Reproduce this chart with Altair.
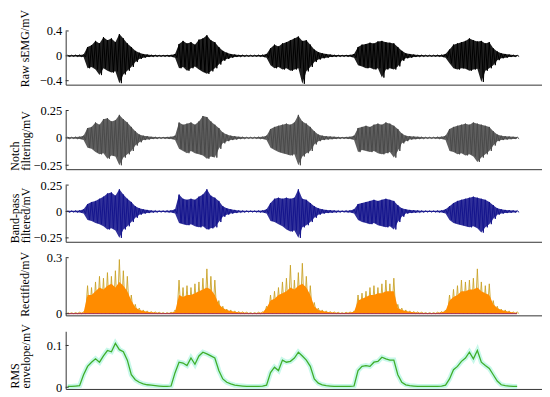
import altair as alt
import pandas as pd

N = 114
time_s = [round(i * 0.04, 2) for i in range(N)]

raw_upper = [0.012, 0.01, 0.012, 0.015,
             0.02, 0.14, 0.17, 0.24, 0.2, 0.3, 0.25, 0.28, 0.22, 0.35, 0.28, 0.2, 0.14, 0.08, 0.05, 0.03, 0.02,
             0.015, 0.012, 0.01, 0.01, 0.012, 0.015,
             0.03, 0.19, 0.24, 0.2, 0.22, 0.18, 0.26, 0.28, 0.33, 0.25, 0.22, 0.14, 0.08, 0.05, 0.03, 0.02,
             0.015, 0.012, 0.01, 0.01, 0.01, 0.012, 0.015,
             0.03, 0.12, 0.18, 0.15, 0.2, 0.22, 0.25, 0.28, 0.31, 0.24, 0.25, 0.18, 0.1, 0.06, 0.04, 0.03, 0.02,
             0.015, 0.012, 0.01, 0.012, 0.015,
             0.03, 0.14, 0.18, 0.19, 0.21, 0.2, 0.23, 0.24, 0.22, 0.21, 0.2, 0.14, 0.08, 0.04, 0.03, 0.02,
             0.015, 0.012, 0.01, 0.01, 0.01, 0.012, 0.015,
             0.03, 0.1, 0.18, 0.2, 0.22, 0.24, 0.28, 0.25, 0.23, 0.24, 0.2, 0.22, 0.12, 0.07, 0.04, 0.03, 0.02, 0.015, 0.01]
raw_lower = [-0.012, -0.01, -0.012, -0.015,
             -0.02, -0.2, -0.18, -0.22, -0.31, -0.2, -0.24, -0.27, -0.25, -0.44, -0.3, -0.24, -0.18, -0.1, -0.05, -0.03, -0.02,
             -0.015, -0.012, -0.01, -0.01, -0.012, -0.015,
             -0.03, -0.2, -0.18, -0.24, -0.2, -0.17, -0.22, -0.26, -0.29, -0.25, -0.2, -0.14, -0.08, -0.05, -0.03, -0.02,
             -0.015, -0.012, -0.01, -0.01, -0.01, -0.012, -0.015,
             -0.03, -0.15, -0.2, -0.18, -0.22, -0.2, -0.24, -0.22, -0.2, -0.45, -0.25, -0.18, -0.1, -0.06, -0.04, -0.03, -0.02,
             -0.015, -0.012, -0.01, -0.012, -0.015,
             -0.03, -0.15, -0.17, -0.2, -0.19, -0.22, -0.2, -0.35, -0.22, -0.2, -0.22, -0.17, -0.08, -0.04, -0.03, -0.02,
             -0.015, -0.012, -0.01, -0.01, -0.01, -0.012, -0.015,
             -0.03, -0.12, -0.2, -0.22, -0.2, -0.21, -0.24, -0.22, -0.21, -0.42, -0.24, -0.2, -0.15, -0.07, -0.04, -0.03, -0.02, -0.015, -0.01]

notch_upper = [0.008, 0.006, 0.008, 0.01,
               0.02, 0.09, 0.1, 0.14, 0.12, 0.17, 0.18, 0.15, 0.16, 0.21, 0.17, 0.14, 0.1, 0.06, 0.03, 0.02, 0.015,
               0.01, 0.008, 0.006, 0.006, 0.008, 0.01,
               0.02, 0.14, 0.12, 0.13, 0.14, 0.12, 0.15, 0.2, 0.19, 0.15, 0.12, 0.09, 0.05, 0.03, 0.02, 0.015,
               0.01, 0.008, 0.006, 0.006, 0.006, 0.008, 0.01,
               0.02, 0.08, 0.1, 0.11, 0.12, 0.13, 0.12, 0.14, 0.21, 0.15, 0.13, 0.1, 0.06, 0.03, 0.02, 0.015, 0.012,
               0.01, 0.008, 0.006, 0.008, 0.01,
               0.02, 0.09, 0.1, 0.11, 0.1, 0.12, 0.13, 0.12, 0.14, 0.13, 0.11, 0.08, 0.04, 0.02, 0.015, 0.012,
               0.01, 0.008, 0.006, 0.006, 0.006, 0.008, 0.01,
               0.02, 0.08, 0.1, 0.11, 0.12, 0.13, 0.12, 0.14, 0.13, 0.12, 0.11, 0.1, 0.06, 0.03, 0.02, 0.015, 0.012, 0.01, 0.008]
notch_lower = [-0.008, -0.006, -0.008, -0.01,
               -0.02, -0.09, -0.1, -0.13, -0.15, -0.14, -0.19, -0.16, -0.17, -0.25, -0.18, -0.15, -0.12, -0.07, -0.04, -0.02, -0.015,
               -0.01, -0.008, -0.006, -0.006, -0.008, -0.01,
               -0.02, -0.1, -0.12, -0.14, -0.12, -0.14, -0.15, -0.16, -0.19, -0.17, -0.18, -0.1, -0.05, -0.03, -0.02, -0.015,
               -0.01, -0.008, -0.006, -0.006, -0.006, -0.008, -0.01,
               -0.02, -0.09, -0.11, -0.13, -0.14, -0.15, -0.16, -0.15, -0.25, -0.17, -0.14, -0.12, -0.06, -0.03, -0.02, -0.015, -0.012,
               -0.01, -0.008, -0.006, -0.008, -0.01,
               -0.02, -0.13, -0.11, -0.12, -0.13, -0.12, -0.14, -0.15, -0.14, -0.13, -0.18, -0.12, -0.05, -0.03, -0.015, -0.012,
               -0.01, -0.008, -0.006, -0.006, -0.006, -0.008, -0.01,
               -0.02, -0.12, -0.13, -0.15, -0.14, -0.16, -0.15, -0.17, -0.22, -0.18, -0.15, -0.12, -0.07, -0.03, -0.02, -0.015, -0.012, -0.01, -0.008]

band_upper = [0.008, 0.006, 0.008, 0.01,
              0.02, 0.07, 0.09, 0.1, 0.12, 0.14, 0.17, 0.18, 0.15, 0.21, 0.16, 0.12, 0.09, 0.05, 0.03, 0.02, 0.015,
              0.01, 0.008, 0.006, 0.006, 0.008, 0.01,
              0.02, 0.16, 0.12, 0.11, 0.12, 0.11, 0.14, 0.16, 0.21, 0.15, 0.13, 0.1, 0.05, 0.03, 0.02, 0.015,
              0.01, 0.008, 0.006, 0.006, 0.006, 0.008, 0.01,
              0.02, 0.08, 0.12, 0.13, 0.12, 0.13, 0.12, 0.13, 0.21, 0.12, 0.11, 0.08, 0.05, 0.03, 0.02, 0.015, 0.012,
              0.01, 0.008, 0.006, 0.008, 0.01,
              0.02, 0.07, 0.08, 0.09, 0.1, 0.11, 0.1, 0.11, 0.12, 0.11, 0.1, 0.06, 0.03, 0.02, 0.015, 0.012,
              0.01, 0.008, 0.006, 0.006, 0.006, 0.008, 0.01,
              0.02, 0.05, 0.08, 0.1, 0.11, 0.12, 0.13, 0.14, 0.13, 0.12, 0.11, 0.09, 0.06, 0.03, 0.02, 0.015, 0.012, 0.01, 0.008]
band_lower = [-0.008, -0.006, -0.008, -0.01,
              -0.02, -0.08, -0.09, -0.11, -0.12, -0.14, -0.17, -0.16, -0.18, -0.25, -0.17, -0.14, -0.1, -0.06, -0.03, -0.02, -0.015,
              -0.01, -0.008, -0.006, -0.006, -0.008, -0.01,
              -0.02, -0.11, -0.12, -0.13, -0.12, -0.14, -0.15, -0.14, -0.17, -0.16, -0.15, -0.1, -0.05, -0.03, -0.02, -0.015,
              -0.01, -0.008, -0.006, -0.006, -0.006, -0.008, -0.01,
              -0.02, -0.09, -0.1, -0.12, -0.14, -0.17, -0.19, -0.18, -0.25, -0.15, -0.13, -0.1, -0.06, -0.03, -0.02, -0.015, -0.012,
              -0.01, -0.008, -0.006, -0.008, -0.01,
              -0.02, -0.08, -0.1, -0.11, -0.12, -0.11, -0.13, -0.14, -0.15, -0.14, -0.17, -0.1, -0.05, -0.02, -0.015, -0.012,
              -0.01, -0.008, -0.006, -0.006, -0.006, -0.008, -0.01,
              -0.02, -0.08, -0.11, -0.12, -0.13, -0.14, -0.15, -0.14, -0.16, -0.2, -0.15, -0.12, -0.07, -0.03, -0.02, -0.015, -0.012, -0.01, -0.008]

rect_peak = [0.006, 0.005, 0.006, 0.008,
             0.01, 0.15, 0.14, 0.17, 0.2, 0.19, 0.22, 0.2, 0.23, 0.29, 0.23, 0.2, 0.1, 0.05, 0.03, 0.02, 0.015,
             0.012, 0.01, 0.008, 0.006, 0.006, 0.008,
             0.02, 0.18, 0.14, 0.15, 0.14, 0.16, 0.17, 0.19, 0.24, 0.2, 0.18, 0.07, 0.04, 0.025, 0.02, 0.015,
             0.012, 0.01, 0.008, 0.006, 0.006, 0.008, 0.01,
             0.04, 0.1, 0.12, 0.14, 0.17, 0.19, 0.26, 0.18, 0.22, 0.27, 0.2, 0.15, 0.06, 0.03, 0.02, 0.015, 0.012,
             0.01, 0.008, 0.006, 0.008, 0.01,
             0.015, 0.1, 0.11, 0.12, 0.14, 0.15, 0.14, 0.16, 0.18, 0.16, 0.19, 0.05, 0.03, 0.02, 0.015, 0.012,
             0.01, 0.008, 0.006, 0.006, 0.006, 0.008, 0.012,
             0.02, 0.1, 0.13, 0.15, 0.18, 0.17, 0.18, 0.19, 0.24, 0.17, 0.15, 0.16, 0.07, 0.04, 0.025, 0.02, 0.015, 0.01, 0.01]
rect_core = [0.004, 0.003, 0.004, 0.005,
             0.006, 0.1, 0.1, 0.12, 0.14, 0.13, 0.15, 0.16, 0.14, 0.17, 0.15, 0.12, 0.07, 0.035, 0.02, 0.015, 0.01,
             0.008, 0.006, 0.005, 0.004, 0.004, 0.005,
             0.01, 0.1, 0.09, 0.1, 0.1, 0.11, 0.12, 0.13, 0.14, 0.13, 0.1, 0.05, 0.03, 0.02, 0.015, 0.01,
             0.008, 0.006, 0.005, 0.004, 0.004, 0.005, 0.006,
             0.03, 0.07, 0.08, 0.1, 0.11, 0.12, 0.14, 0.13, 0.15, 0.16, 0.14, 0.1, 0.04, 0.02, 0.015, 0.01, 0.008,
             0.006, 0.005, 0.004, 0.005, 0.006,
             0.01, 0.07, 0.08, 0.09, 0.1, 0.1, 0.11, 0.11, 0.12, 0.12, 0.12, 0.03, 0.02, 0.015, 0.01, 0.008,
             0.006, 0.005, 0.004, 0.004, 0.004, 0.005, 0.008,
             0.015, 0.07, 0.09, 0.1, 0.12, 0.12, 0.13, 0.13, 0.14, 0.12, 0.11, 0.1, 0.05, 0.03, 0.02, 0.015, 0.01, 0.006, 0.005]
rect_floor = [0.0] * N

rms_env = [0.002, 0.002, 0.003,
           0.004, 0.03, 0.05, 0.06, 0.068, 0.06, 0.075, 0.088, 0.085, 0.105, 0.09, 0.085, 0.065, 0.03, 0.018, 0.012, 0.008, 0.006,
           0.005, 0.004, 0.003, 0.002, 0.002, 0.003,
           0.035, 0.06, 0.058, 0.052, 0.07, 0.055, 0.075, 0.084, 0.08, 0.075, 0.07, 0.04, 0.02, 0.012, 0.008, 0.005,
           0.004, 0.003, 0.002, 0.002, 0.002, 0.002, 0.003, 0.005,
           0.035, 0.048, 0.04, 0.065, 0.06, 0.062, 0.07, 0.084, 0.075, 0.065, 0.05, 0.02, 0.01, 0.006, 0.004,
           0.003, 0.002, 0.002, 0.002, 0.002, 0.002, 0.003,
           0.04, 0.05, 0.052, 0.05, 0.06, 0.062, 0.072, 0.068, 0.065, 0.065, 0.03, 0.012, 0.006, 0.004,
           0.003, 0.002, 0.002, 0.002, 0.002, 0.002, 0.002, 0.003, 0.005,
           0.02, 0.042, 0.05, 0.062, 0.07, 0.084, 0.068, 0.088, 0.06, 0.052, 0.045, 0.03, 0.015, 0.006, 0.004, 0.003, 0.002, 0.002]

for arr in [raw_upper, raw_lower, notch_upper, notch_lower, band_upper, band_lower,
            rect_peak, rect_core, rms_env]:
    assert len(arr) == N, len(arr)

FONT = "Liberation Serif"
XDOM = [-0.02, 4.77]
W = 479


def zigzag(upper, lower):
    rows = []
    for t, u, l in zip(time_s, upper, lower):
        rows.append({"t": t, "v": u})
        rows.append({"t": round(t + 0.02, 3), "v": l})
    return pd.DataFrame(rows)


def xenc(offset=0):
    return alt.X("t:Q", scale=alt.Scale(domain=XDOM, nice=False, zero=False),
                 axis=alt.Axis(labels=False, ticks=False, grid=False, title=None,
                               domainColor="#333333", domainWidth=1, offset=offset))


def yscale(domain, rng=None):
    if rng is not None:
        return alt.Scale(domain=domain, nice=False, zero=False, range=rng)
    return alt.Scale(domain=domain, nice=False, zero=False)


def yaxis(ticks, title, title_x, title_y):
    return alt.Axis(values=ticks, format=".2~f", title=title, titleFont=FONT,
                    titleFontSize=12, titleFontWeight="normal", titleColor="black",
                    titleX=title_x, titleY=title_y, titleAngle=270, titleAlign="left",
                    titleBaseline="bottom", titleLineHeight=11,
                    labelFont=FONT, labelFontSize=12.5, labelColor="black",
                    labelPadding=4, ticks=False, tickSize=0, grid=False,
                    domainColor="#333333", domainWidth=1)


def panel(layers_spec, domain, ticks, title, h, title_x, title_y, rng=None, xoff=0):
    """layers_spec: list of (dataframe, mark_fn, extra encodings)."""
    sc = yscale(domain, rng)
    ax = yaxis(ticks, title, title_x, title_y)
    layers = []
    for df, mark, extra in layers_spec:
        layers.append(mark(alt.Chart(df)).encode(
            x=xenc(xoff), y=alt.Y("v:Q", scale=sc, axis=ax), **extra))
    tick_df = pd.DataFrame({"v": ticks})
    layers.append(alt.Chart(tick_df).mark_rule(color="#333333", strokeWidth=1).encode(
        x=alt.value(0), x2=alt.value(3), y=alt.Y("v:Q", scale=sc, axis=ax)))
    return alt.layer(*layers).properties(width=W, height=h)


def signal_panel(upper, lower, color, domain, ticks, title, h, title_x, title_y, rng=None, xoff=0):
    env = pd.DataFrame({"t": time_s, "v": upper, "l": lower})
    spec = [
        (env, lambda c: c.mark_area(color=color, opacity=0.88, clip=True), {"y2": "l:Q"}),
        (zigzag(upper, lower), lambda c: c.mark_line(color=color, strokeWidth=1, clip=True), {}),
    ]
    return panel(spec, domain, ticks, title, h, title_x, title_y, rng, xoff)


p1 = signal_panel(raw_upper, raw_lower, "#000000", [-0.464, 0.4], [-0.4, 0, 0.4],
                  "Raw sEMG/mV", 64, -34, 56, rng=[54, 0], xoff=-10)
p2 = signal_panel(notch_upper, notch_lower, "#4a4a4a", [-0.286, 0.25], [-0.25, 0, 0.25],
                  ["Notch", "filtering/mV"], 59, -44, 60)
p3 = signal_panel(band_upper, band_lower, "#14148c", [-0.287, 0.25], [-0.25, 0, 0.25],
                  ["Band-pass", "filtered/mV"], 57, -44, 58)

# Rectified panel
base_df = pd.DataFrame({"t": [time_s[0]], "t2": [time_s[-1]], "v": [0.0]})
p4 = panel([
    (zigzag(rect_peak, rect_floor), lambda c: c.mark_line(color="#c9a227", strokeWidth=0.9, clip=True), {}),
    (pd.DataFrame({"t": time_s, "v": rect_core}), lambda c: c.mark_area(color="#ff8c00", clip=True),
     {"y2": alt.datum(0)}),
    (base_df, lambda c: c.mark_rule(color="#9c2a5a", strokeWidth=1), {"x2": "t2:Q"}),
], [-0.009, 0.3], [0, 0.3], "Rectified/mV", 58, -34, 59)

# RMS panel
rms_df = pd.DataFrame({"t": time_s, "v": rms_env})
p5 = panel([
    (rms_df, lambda c: c.mark_line(color="#c8f8ea", strokeWidth=5, clip=True), {}),
    (rms_df, lambda c: c.mark_line(color="#3fae2a", strokeWidth=1.3, clip=True), {}),
], [-0.004, 0.134], [0, 0.1], ["RMS", "envelope/mV"], 58, -44, 57)

chart = alt.vconcat(p1, p2, p3, p4, p5, spacing=16, bounds="flush").properties(
    padding={"left": 0, "top": 0, "right": 0, "bottom": 0},
    background="white",
).configure_view(stroke=None)

chart.save("out.html", embed_options={"renderer": "svg", "actions": False})
